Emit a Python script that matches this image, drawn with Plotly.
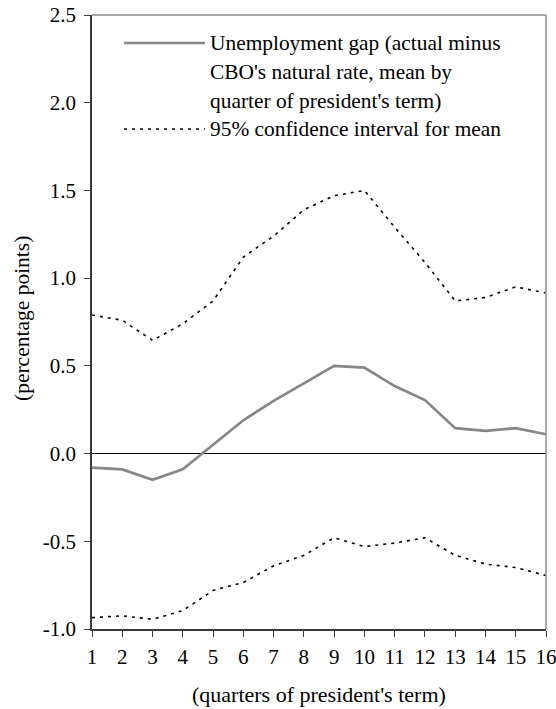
import plotly.graph_objects as go

quarters = list(range(1, 17))
gap_mean = [-0.08, -0.09, -0.15, -0.09, 0.05, 0.19, 0.30, 0.40, 0.50, 0.49, 0.385, 0.305, 0.145, 0.13, 0.145, 0.11]
ci_upper = [0.79, 0.76, 0.645, 0.74, 0.87, 1.12, 1.24, 1.39, 1.47, 1.50, 1.29, 1.09, 0.87, 0.89, 0.95, 0.915]
ci_lower = [-0.935, -0.925, -0.945, -0.895, -0.78, -0.735, -0.64, -0.58, -0.48, -0.53, -0.51, -0.48, -0.58, -0.63, -0.65, -0.695]

y_tickvals = [-1.0, -0.5, 0.0, 0.5, 1.0, 1.5, 2.0, 2.5]
y_ticktext = ["-1.0", "-0.5", "0.0", "0.5", "1.0", "1.5", "2.0", "2.5"]
x_ticktext = [str(q) for q in quarters]

legend_mean = ["Unemployment gap (actual minus", "CBO's natural rate, mean by", "quarter of president's term)"]
legend_ci = "95% confidence interval for mean"
x_title = "(quarters of president's term)"
y_title = "(percentage points)"

FONT = "Liberation Serif, Times New Roman, serif"
FS = 21
W, H = 556, 709
# plot area in page pixels: x 92..546, y 15..629
PL, PR, PT, PB = 92, 546, 15, 629
ML, MR, MT, MB = PL, W - PR, PT, H - PB
PW = PR - PL
PH = PB - PT


def px_x(px):
    return (px - PL) / PW


def px_y(py):
    return (PB - py) / PH


DASH = "3px,5px"
fig = go.Figure()
ci_style = dict(color="black", width=1.6, dash=DASH)
fig.add_trace(go.Scatter(x=quarters, y=ci_upper, mode="lines", line=ci_style, showlegend=False))
fig.add_trace(go.Scatter(x=quarters, y=ci_lower, mode="lines", line=ci_style, showlegend=False))
fig.add_trace(go.Scatter(x=quarters, y=gap_mean, mode="lines",
                         line=dict(color="#868686", width=2.7), showlegend=False))

shapes = [
    dict(type="line", xref="paper", yref="paper", x0=0, x1=1, y0=1, y1=1,
         line=dict(color="#8c8c8c", width=1.5)),
    dict(type="line", xref="paper", yref="paper", x0=1, x1=1, y0=0, y1=1,
         line=dict(color="#8c8c8c", width=1.5)),
    dict(type="line", xref="paper", yref="paper", x0=px_x(124), x1=px_x(205),
         y0=px_y(43), y1=px_y(43), line=dict(color="#868686", width=2.7)),
    dict(type="line", xref="paper", yref="paper", x0=px_x(124), x1=px_x(205),
         y0=px_y(129), y1=px_y(129), line=dict(color="black", width=1.6, dash=DASH)),
]

LFS = 21.4
annotations = []
for i, txt in enumerate(legend_mean):
    annotations.append(dict(xref="paper", yref="paper", x=px_x(208), y=px_y([43, 72, 101][i]),
                            xanchor="left", yanchor="middle", text=txt, showarrow=False,
                            font=dict(family=FONT, size=LFS, color="black")))
annotations.append(dict(xref="paper", yref="paper", x=px_x(208), y=px_y(129),
                        xanchor="left", yanchor="middle", text=legend_ci, showarrow=False,
                        font=dict(family=FONT, size=LFS, color="black")))
annotations.append(dict(xref="paper", yref="paper", x=px_x(319), y=px_y(694),
                        xanchor="center", yanchor="middle", text=x_title, showarrow=False,
                        font=dict(family=FONT, size=22, color="black")))
annotations.append(dict(xref="paper", yref="paper", x=px_x(22), y=px_y(319), textangle=-90,
                        xanchor="center", yanchor="middle", text=y_title, showarrow=False,
                        font=dict(family=FONT, size=21.5, color="black")))

fig.update_layout(
    width=W, height=H,
    margin=dict(l=ML, r=MR, t=MT, b=MB, pad=0, autoexpand=False),
    paper_bgcolor="white", plot_bgcolor="white",
    font=dict(family=FONT, size=FS, color="black"),
    shapes=shapes, annotations=annotations,
    xaxis=dict(range=[1, 16], tickvals=quarters, ticktext=x_ticktext, showgrid=False,
               zeroline=False, showline=True, linecolor="#3a3a3a", linewidth=1.5,
               ticks="outside", ticklen=6, tickcolor="#3a3a3a", tickwidth=1.2,
               ticklabeloverflow="allow", ticklabelstandoff=2, automargin=False,
               tickfont=dict(family=FONT, size=FS, color="black")),
    yaxis=dict(range=[-1, 2.5], tickvals=y_tickvals, ticktext=y_ticktext, showgrid=False,
               zeroline=True, zerolinecolor="black", zerolinewidth=1.2,
               showline=True, linecolor="#3a3a3a", linewidth=1.5,
               ticks="outside", ticklen=6, tickcolor="#3a3a3a", tickwidth=1.2,
               ticklabeloverflow="allow", ticklabelstandoff=4, automargin=False,
               tickfont=dict(family=FONT, size=FS, color="black")),
)

fig.write_html("out.html", config={"displayModeBar": False},
               post_script="document.body.style.margin='0';document.body.style.overflow='hidden';")
